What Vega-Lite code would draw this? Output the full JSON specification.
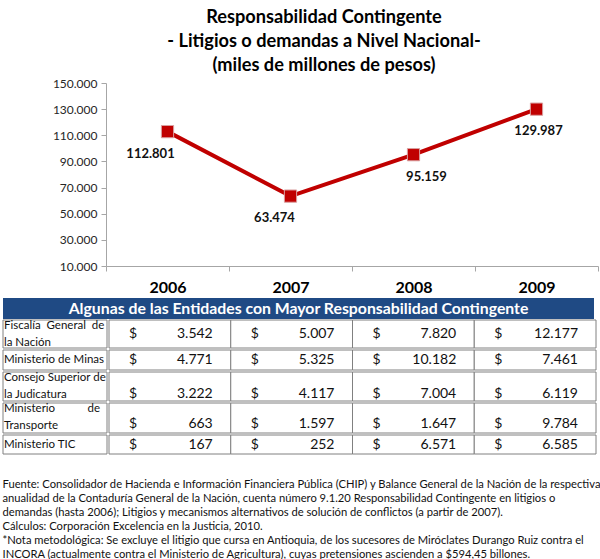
{
  "$schema": "https://vega.github.io/schema/vega-lite/v6.json",
  "padding": {"left": 2, "top": 7, "right": 0, "bottom": 0},
  "background": "white",
  "config": {
    "locale": {"number": {"decimal": ",", "thousands": ".", "grouping": [3], "currency": ["$", ""]}},
    "font": "Lato",
    "view": {"stroke": null}
  },
  "datasets": {
    "totals": [
      {"year": "2006", "value": 112801},
      {"year": "2007", "value": 63474},
      {"year": "2008", "value": 95159},
      {"year": "2009", "value": 129987}
    ],
    "entities": [
      {"entity": "Fiscalía General de la Nación", "label": ["Fiscalía\u00a0 General\u00a0 de", "la Nación"]},
      {"entity": "Ministerio de Minas", "label": ["Ministerio de Minas"]},
      {"entity": "Consejo Superior de la Judicatura", "label": ["Consejo Superior de", "la Judicatura"]},
      {"entity": "Ministerio de Transporte", "label": ["Ministerio\u00a0\u00a0\u00a0\u00a0\u00a0\u00a0\u00a0\u00a0\u00a0\u00a0 de", "Transporte"]},
      {"entity": "Ministerio TIC", "label": ["Ministerio TIC"]}
    ],
    "cells": [
      {"entity": "Fiscalía General de la Nación", "year": "2006", "value": 3542},
      {"entity": "Fiscalía General de la Nación", "year": "2007", "value": 5007},
      {"entity": "Fiscalía General de la Nación", "year": "2008", "value": 7820},
      {"entity": "Fiscalía General de la Nación", "year": "2009", "value": 12177},
      {"entity": "Ministerio de Minas", "year": "2006", "value": 4771},
      {"entity": "Ministerio de Minas", "year": "2007", "value": 5325},
      {"entity": "Ministerio de Minas", "year": "2008", "value": 10182},
      {"entity": "Ministerio de Minas", "year": "2009", "value": 7461},
      {"entity": "Consejo Superior de la Judicatura", "year": "2006", "value": 3222},
      {"entity": "Consejo Superior de la Judicatura", "year": "2007", "value": 4117},
      {"entity": "Consejo Superior de la Judicatura", "year": "2008", "value": 7004},
      {"entity": "Consejo Superior de la Judicatura", "year": "2009", "value": 6119},
      {"entity": "Ministerio de Transporte", "year": "2006", "value": 663},
      {"entity": "Ministerio de Transporte", "year": "2007", "value": 1597},
      {"entity": "Ministerio de Transporte", "year": "2008", "value": 1647},
      {"entity": "Ministerio de Transporte", "year": "2009", "value": 9784},
      {"entity": "Ministerio TIC", "year": "2006", "value": 167},
      {"entity": "Ministerio TIC", "year": "2007", "value": 252},
      {"entity": "Ministerio TIC", "year": "2008", "value": 6571},
      {"entity": "Ministerio TIC", "year": "2009", "value": 6585}
    ]
  },
  "title": {
    "text": [
      "Fuente: Consolidador de Hacienda e Información Financiera Pública (CHIP) y Balance General de la Nación de la respectiva",
      "anualidad de la Contaduría General de la Nación, cuenta número 9.1.20 Responsabilidad Contingente en litigios o",
      "demandas (hasta 2006); Litigios y mecanismos alternativos de solución de conflictos (a partir de 2007).",
      "Cálculos: Corporación Excelencia en la Justicia, 2010.",
      "*Nota metodológica: Se excluye el litigio que cursa en Antioquia, de los sucesores de Miróclates Durango Ruiz contra el",
      "INCORA (actualmente contra el Ministerio de Agricultura), cuyas pretensiones ascienden a $594,45 billones."
    ],
    "orient": "bottom",
    "anchor": "start",
    "frame": "bounds",
    "fontSize": 11.2,
    "fontWeight": "normal",
    "lineHeight": 14,
    "offset": 24,
    "color": "#111111"
  },
  "columns": 1,
  "spacing": 0,
  "concat": [
    {
      "spacing": 0,
      "hconcat": [
        {
          "width": 1,
          "height": 183,
          "data": {"values": [{"blank": ""}]},
          "mark": {"type": "text"},
          "encoding": {"text": {"field": "blank", "type": "nominal"}}
        },
        {
          "width": 492,
          "height": 183,
          "title": {
            "text": ["Responsabilidad Contingente", "- Litigios o demandas a Nivel Nacional-", "(miles de millones de pesos)"],
            "fontSize": 18.2,
            "fontWeight": "bold",
            "lineHeight": 24,
            "anchor": "middle",
            "dx": -28,
            "offset": 2,
            "color": "#000000"
          },
          "data": {"name": "totals"},
          "encoding": {
            "x": {
              "field": "year", "type": "nominal",
              "scale": {"type": "band", "paddingInner": 0, "paddingOuter": 0},
              "axis": {"title": null, "labelAngle": 0, "labelFontSize": 16, "labelFontWeight": "bold", "labelColor": "#000000",
                       "tickBand": "extent", "tickSize": 5, "tickColor": "#a6a6a6", "domainColor": "#a6a6a6", "labelPadding": 8, "minExtent": 32}
            },
            "y": {
              "field": "value", "type": "quantitative",
              "scale": {"domain": [10000, 150000], "nice": false, "zero": false},
              "axis": {"title": null, "values": [10000, 30000, 50000, 70000, 90000, 110000, 130000, 150000], "format": ",.0f",
                       "grid": false, "labelFontSize": 12, "labelColor": "#262626", "tickSize": 5, "tickColor": "#a6a6a6",
                       "domainColor": "#a6a6a6", "labelPadding": 4, "minExtent": 102}
            }
          },
          "layer": [
            {"mark": {"type": "line", "color": "#c00000", "strokeWidth": 4}},
            {"mark": {"type": "point", "shape": "square", "filled": true, "size": 150, "color": "#c00000", "opacity": 1, "stroke": "#d9a0a0", "strokeWidth": 1}},
            {
              "mark": {"type": "text", "fontSize": 13, "fontWeight": "bold", "color": "#111111", "dy": 22,
                       "dx": {"expr": "datum.year == '2006' ? -17 : datum.year == '2007' ? -16 : datum.year == '2008' ? 13 : 2"}},
              "encoding": {"text": {"field": "value", "type": "quantitative", "format": ",.0f"}}
            }
          ]
        }
      ]
    },
    {
      "width": 591,
      "height": 21,
      "view": {"fill": "#1f4a84", "stroke": null},
      "data": {"values": [{"label": "Algunas de las Entidades con Mayor Responsabilidad Contingente"}]},
      "mark": {"type": "text", "fontSize": 15.8, "fontWeight": "bold", "color": "white", "baseline": "middle"},
      "encoding": {"text": {"field": "label", "type": "nominal"}}
    },
    {
      "spacing": 0,
      "vconcat": [
        {
          "spacing": 0,
          "hconcat": [
            {
              "width": 104, "height": 28,
              "data": {"name": "entities"},
              "transform": [{"filter": {"field": "entity", "equal": "Fiscalía General de la Nación"}}],
              "layer": [
                {"mark": {"type": "rect", "fill": "white", "stroke": "#808080", "strokeWidth": 1}, "encoding": {}},
                {"mark": {"type": "text", "align": "left", "baseline": "middle", "fontSize": 11.5, "lineHeight": 17, "dx": 1, "dy": -8.5, "color": "#111111"},
                 "encoding": {"x": {"datum": 0, "type": "quantitative", "scale": {"domain": [0, 1]}, "axis": null}, "text": {"field": "label"}}}
              ]
            },
            {
              "width": 487, "height": 28,
              "data": {"name": "cells"},
              "transform": [{"filter": {"field": "entity", "equal": "Fiscalía General de la Nación"}}],
              "encoding": {"x": {"field": "year", "type": "nominal", "scale": {"type": "band", "paddingInner": 0, "paddingOuter": 0}, "axis": null}},
              "layer": [
                {"mark": {"type": "rect", "fill": "white", "stroke": "#808080", "strokeWidth": 1}},
                {"mark": {"type": "text", "align": "left", "baseline": "middle", "fontSize": 14, "dx": 20, "color": "#111111"},
                 "encoding": {"x": {"field": "year", "type": "nominal", "bandPosition": 0}, "text": {"value": "$"}}},
                {"mark": {"type": "text", "align": "right", "baseline": "middle", "fontSize": 14, "dx": -18, "color": "#111111"},
                 "encoding": {"x": {"field": "year", "type": "nominal", "bandPosition": 1}, "text": {"field": "value", "type": "quantitative", "format": ",.0f"}}}
              ]
            }
          ]
        },
        {
          "spacing": 0,
          "hconcat": [
            {
              "width": 104, "height": 20,
              "data": {"name": "entities"},
              "transform": [{"filter": {"field": "entity", "equal": "Ministerio de Minas"}}],
              "layer": [
                {"mark": {"type": "rect", "fill": "white", "stroke": "#808080", "strokeWidth": 1}, "encoding": {}},
                {"mark": {"type": "text", "align": "left", "baseline": "middle", "fontSize": 11.5, "lineHeight": 17, "dx": 1, "color": "#111111"},
                 "encoding": {"x": {"datum": 0, "type": "quantitative", "scale": {"domain": [0, 1]}, "axis": null}, "text": {"field": "label"}}}
              ]
            },
            {
              "width": 487, "height": 20,
              "data": {"name": "cells"},
              "transform": [{"filter": {"field": "entity", "equal": "Ministerio de Minas"}}],
              "encoding": {"x": {"field": "year", "type": "nominal", "scale": {"type": "band", "paddingInner": 0, "paddingOuter": 0}, "axis": null}},
              "layer": [
                {"mark": {"type": "rect", "fill": "white", "stroke": "#808080", "strokeWidth": 1}},
                {"mark": {"type": "text", "align": "left", "baseline": "middle", "fontSize": 14, "dx": 20, "color": "#111111"},
                 "encoding": {"x": {"field": "year", "type": "nominal", "bandPosition": 0}, "text": {"value": "$"}}},
                {"mark": {"type": "text", "align": "right", "baseline": "middle", "fontSize": 14, "dx": -18, "color": "#111111"},
                 "encoding": {"x": {"field": "year", "type": "nominal", "bandPosition": 1}, "text": {"field": "value", "type": "quantitative", "format": ",.0f"}}}
              ]
            }
          ]
        },
        {
          "spacing": 0,
          "hconcat": [
            {
              "width": 104, "height": 29,
              "data": {"name": "entities"},
              "transform": [{"filter": {"field": "entity", "equal": "Consejo Superior de la Judicatura"}}],
              "layer": [
                {"mark": {"type": "rect", "fill": "white", "stroke": "#808080", "strokeWidth": 1}, "encoding": {}},
                {"mark": {"type": "text", "align": "left", "baseline": "middle", "fontSize": 11.5, "lineHeight": 17, "dx": 1, "dy": -8.5, "color": "#111111"},
                 "encoding": {"x": {"datum": 0, "type": "quantitative", "scale": {"domain": [0, 1]}, "axis": null}, "text": {"field": "label"}}}
              ]
            },
            {
              "width": 487, "height": 29,
              "data": {"name": "cells"},
              "transform": [{"filter": {"field": "entity", "equal": "Consejo Superior de la Judicatura"}}],
              "encoding": {"x": {"field": "year", "type": "nominal", "scale": {"type": "band", "paddingInner": 0, "paddingOuter": 0}, "axis": null}},
              "layer": [
                {"mark": {"type": "rect", "fill": "white", "stroke": "#808080", "strokeWidth": 1}},
                {"mark": {"type": "text", "align": "left", "baseline": "middle", "fontSize": 14, "dx": 20, "dy": 7, "color": "#111111"},
                 "encoding": {"x": {"field": "year", "type": "nominal", "bandPosition": 0}, "text": {"value": "$"}}},
                {"mark": {"type": "text", "align": "right", "baseline": "middle", "fontSize": 14, "dx": -18, "dy": 7, "color": "#111111"},
                 "encoding": {"x": {"field": "year", "type": "nominal", "bandPosition": 1}, "text": {"field": "value", "type": "quantitative", "format": ",.0f"}}}
              ]
            }
          ]
        },
        {
          "spacing": 0,
          "hconcat": [
            {
              "width": 104, "height": 30,
              "data": {"name": "entities"},
              "transform": [{"filter": {"field": "entity", "equal": "Ministerio de Transporte"}}],
              "layer": [
                {"mark": {"type": "rect", "fill": "white", "stroke": "#808080", "strokeWidth": 1}, "encoding": {}},
                {"mark": {"type": "text", "align": "left", "baseline": "middle", "fontSize": 11.5, "lineHeight": 17, "dx": 1, "dy": -9, "color": "#111111"},
                 "encoding": {"x": {"datum": 0, "type": "quantitative", "scale": {"domain": [0, 1]}, "axis": null}, "text": {"field": "label"}}}
              ]
            },
            {
              "width": 487, "height": 30,
              "data": {"name": "cells"},
              "transform": [{"filter": {"field": "entity", "equal": "Ministerio de Transporte"}}],
              "encoding": {"x": {"field": "year", "type": "nominal", "scale": {"type": "band", "paddingInner": 0, "paddingOuter": 0}, "axis": null}},
              "layer": [
                {"mark": {"type": "rect", "fill": "white", "stroke": "#808080", "strokeWidth": 1}},
                {"mark": {"type": "text", "align": "left", "baseline": "middle", "fontSize": 14, "dx": 20, "dy": 6, "color": "#111111"},
                 "encoding": {"x": {"field": "year", "type": "nominal", "bandPosition": 0}, "text": {"value": "$"}}},
                {"mark": {"type": "text", "align": "right", "baseline": "middle", "fontSize": 14, "dx": -18, "dy": 6, "color": "#111111"},
                 "encoding": {"x": {"field": "year", "type": "nominal", "bandPosition": 1}, "text": {"field": "value", "type": "quantitative", "format": ",.0f"}}}
              ]
            }
          ]
        },
        {
          "spacing": 0,
          "hconcat": [
            {
              "width": 104, "height": 19,
              "data": {"name": "entities"},
              "transform": [{"filter": {"field": "entity", "equal": "Ministerio TIC"}}],
              "layer": [
                {"mark": {"type": "rect", "fill": "white", "stroke": "#808080", "strokeWidth": 1}, "encoding": {}},
                {"mark": {"type": "text", "align": "left", "baseline": "middle", "fontSize": 11.5, "lineHeight": 17, "dx": 1, "color": "#111111"},
                 "encoding": {"x": {"datum": 0, "type": "quantitative", "scale": {"domain": [0, 1]}, "axis": null}, "text": {"field": "label"}}}
              ]
            },
            {
              "width": 487, "height": 19,
              "data": {"name": "cells"},
              "transform": [{"filter": {"field": "entity", "equal": "Ministerio TIC"}}],
              "encoding": {"x": {"field": "year", "type": "nominal", "scale": {"type": "band", "paddingInner": 0, "paddingOuter": 0}, "axis": null}},
              "layer": [
                {"mark": {"type": "rect", "fill": "white", "stroke": "#808080", "strokeWidth": 1}},
                {"mark": {"type": "text", "align": "left", "baseline": "middle", "fontSize": 14, "dx": 20, "color": "#111111"},
                 "encoding": {"x": {"field": "year", "type": "nominal", "bandPosition": 0}, "text": {"value": "$"}}},
                {"mark": {"type": "text", "align": "right", "baseline": "middle", "fontSize": 14, "dx": -18, "color": "#111111"},
                 "encoding": {"x": {"field": "year", "type": "nominal", "bandPosition": 1}, "text": {"field": "value", "type": "quantitative", "format": ",.0f"}}}
              ]
            }
          ]
        }
      ]
    }
  ]
}
